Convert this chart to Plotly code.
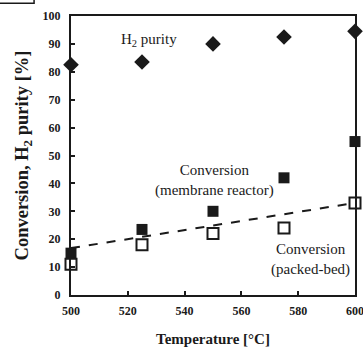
import plotly.graph_objects as go

temperature = [500, 525, 550, 575, 600]
h2_purity = [82.5, 83.5, 90.0, 92.5, 94.5]
conv_membrane = [15.0, 23.5, 30.0, 42.0, 55.0]
conv_packed = [11.0, 18.0, 22.0, 24.0, 33.0]
trend_x = [500, 600]
trend_y = [16.8, 33.0]

x_ticks = [500, 520, 540, 560, 580, 600]
y_ticks = [0, 10, 20, 30, 40, 50, 60, 70, 80, 90, 100]

BLACK = "#1a1a1a"
FONT = "Liberation Serif"

fig = go.Figure()
fig.add_trace(go.Scatter(x=trend_x, y=trend_y, mode="lines",
                         line=dict(color=BLACK, width=2, dash="dash"),
                         cliponaxis=False, showlegend=False, hoverinfo="skip"))
fig.add_trace(go.Scatter(x=temperature, y=h2_purity, mode="markers",
                         marker=dict(symbol="diamond", size=12, color=BLACK),
                         cliponaxis=False, showlegend=False))
fig.add_trace(go.Scatter(x=temperature, y=conv_membrane, mode="markers",
                         marker=dict(symbol="square", size=11, color=BLACK),
                         cliponaxis=False, showlegend=False))
fig.add_trace(go.Scatter(x=temperature, y=conv_packed, mode="markers",
                         marker=dict(symbol="square", size=11, color="white",
                                     line=dict(color=BLACK, width=2)),
                         cliponaxis=False, showlegend=False))

ann_font = dict(family=FONT, size=15, color=BLACK)
fig.add_annotation(x=527.5, y=91.4, text="H<sub>2</sub> purity", showarrow=False, font=ann_font)
fig.add_annotation(x=550.7, y=41.0, text="Conversion<br>(membrane reactor)", showarrow=False, font=ann_font)
fig.add_annotation(x=584.5, y=12.9, text="Conversion<br>(packed-bed)", showarrow=False, font=ann_font)

# partial box fragment at top-left corner
fig.add_shape(type="rect", xref="paper", yref="paper", x0=-0.3, x1=-0.13, y0=1.046, y1=1.2,
              line=dict(color=BLACK, width=1.5), fillcolor="rgba(0,0,0,0)")

axis_common = dict(showline=True, linecolor=BLACK, linewidth=2, mirror=True,
                   ticks="inside", ticklen=4, tickwidth=2, tickcolor=BLACK,
                   showgrid=False, zeroline=False, ticklabeloverflow="allow",
                   tickfont=dict(family=FONT, size=12, color=BLACK, weight="bold"))

fig.update_xaxes(range=[500, 600], tickvals=x_ticks, ticktext=[str(v) for v in x_ticks],
                 ticklabelstandoff=4,
                 title=dict(text="Temperature [°C]", font=dict(family=FONT, size=15, color=BLACK, weight="bold"),
                            standoff=17),
                 **axis_common)
fig.update_yaxes(range=[0, 100], tickvals=y_ticks, ticktext=[str(v) for v in y_ticks],
                 ticklabelstandoff=6,
                 title=dict(text="Conversion, H<sub>2</sub> purity [%]",
                            font=dict(family=FONT, size=18.5, color=BLACK, weight="bold"), standoff=9),
                 **axis_common)

fig.update_layout(width=363, height=347, autosize=False,
                  margin=dict(l=71, r=8, t=16, b=52, autoexpand=False),
                  paper_bgcolor="white", plot_bgcolor="white",
                  font=dict(family=FONT, color=BLACK))

fig.write_html("out.html", config={"displayModeBar": False},
               post_script="document.body.style.margin='0';document.body.style.overflow='hidden';")
